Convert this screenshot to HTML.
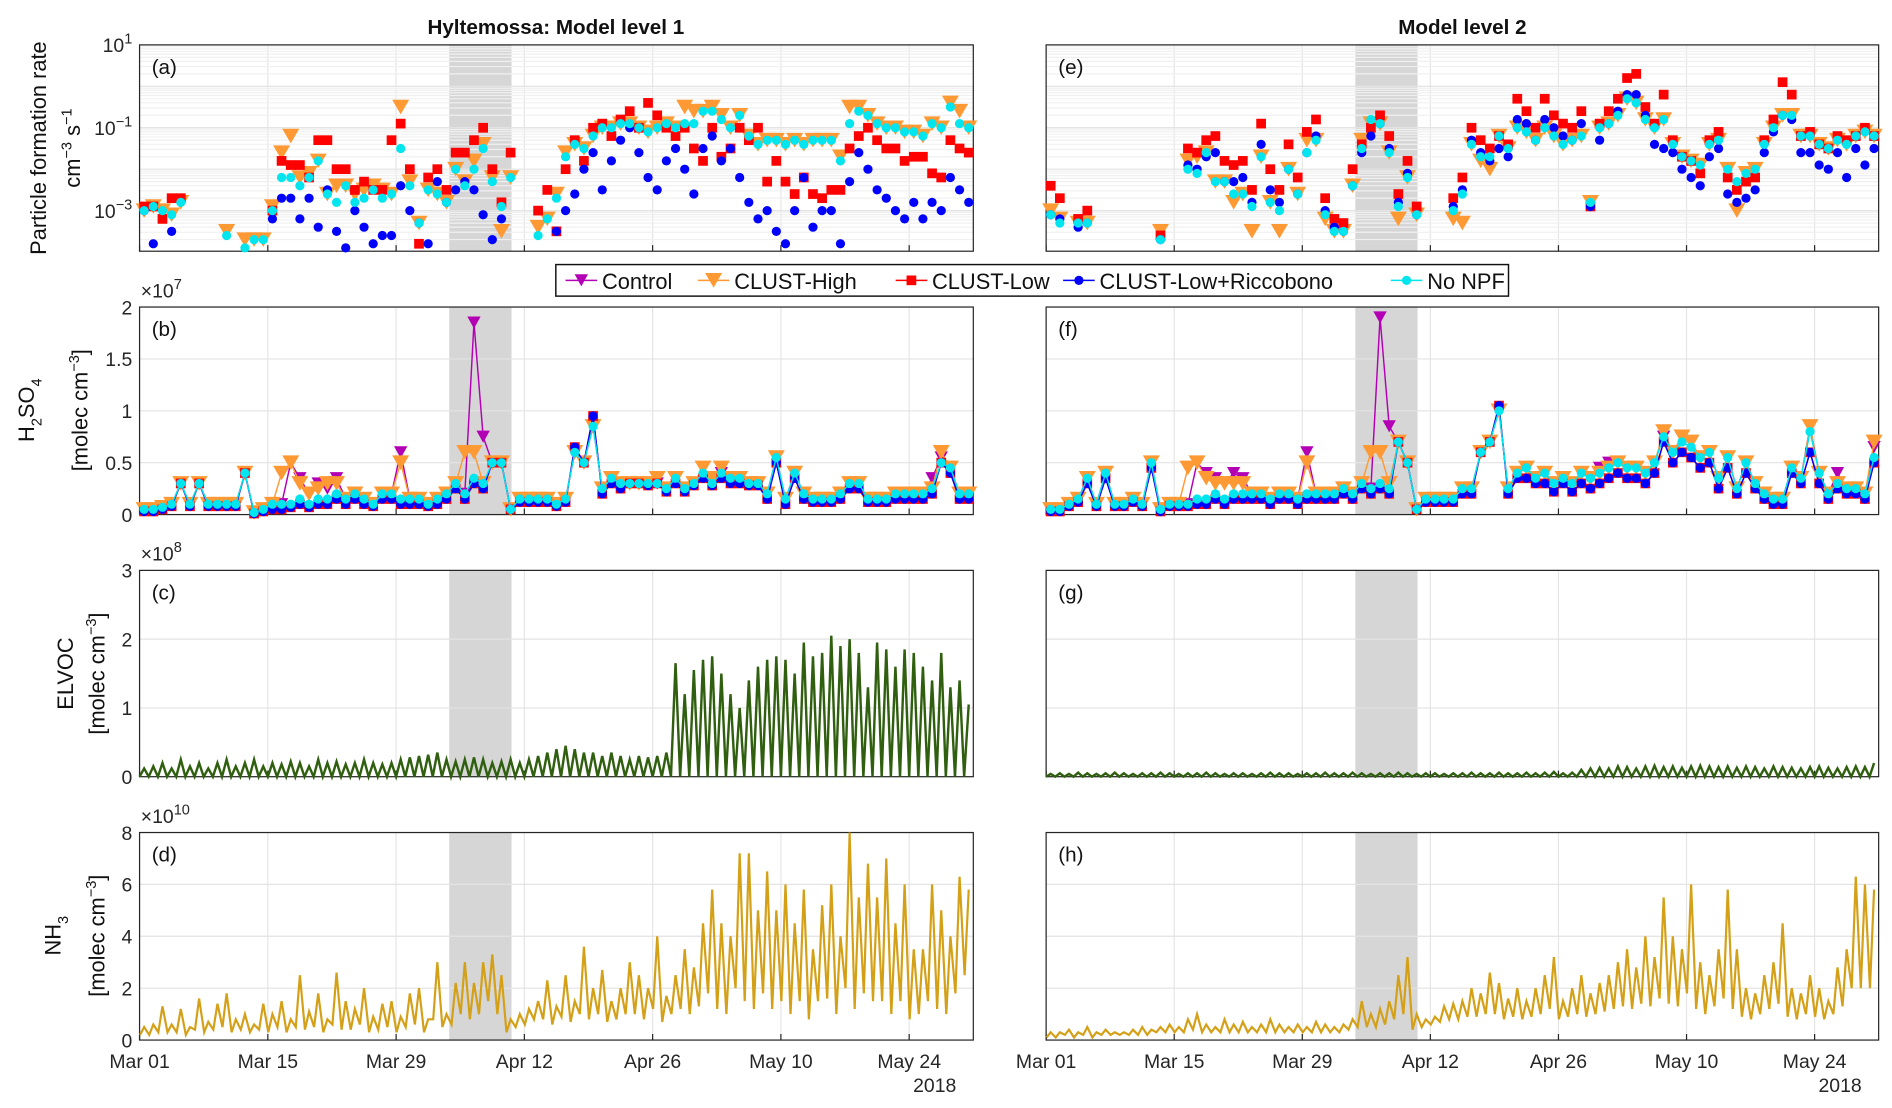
<!DOCTYPE html>
<html><head><meta charset="utf-8"><style>
body{margin:0;background:#fff;}
svg{display:block;font-family:"Liberation Sans",Arial,sans-serif;}
</style></head><body>
<svg id="fig" width="1892" height="1108" viewBox="0 0 1892 1108"></svg>
<script>
// ---------- DATA ----------
const xTickLabels=["Mar 01","Mar 15","Mar 29","Apr 12","Apr 26","May 10","May 24"];
const xTickDays=[0,14,28,42,56,70,84];
const seriesNames=["Control","CLUST-High","CLUST-Low","CLUST-Low+Riccobono","No NPF"];
// (a) log10 of J, model level 1
const jLowL=[-2.9,-2.9,-3.2,-2.7,-2.7,,,,,,,,,,-3.0,-1.8,-1.9,-1.9,-2.2,-1.3,-1.3,-2.0,-2.0,-2.5,-2.3,-2.5,-2.5,-1.3,-0.9,-2.0,-3.8,-2.2,-2.0,-2.5,-1.6,-1.6,-1.3,-1.0,-2.0,-2.8,-1.6,,,-3.0,-2.5,-3.5,-2.0,-1.3,-1.8,-1.0,-0.9,-1.2,-0.8,-0.6,-1.0,-0.4,-0.7,-1.0,-1.2,-1.0,-1.5,-1.8,-1.0,-1.7,-1.5,-1.0,-1.3,-1.0,-2.3,-1.8,-2.3,-2.6,-2.2,-2.6,-2.7,-2.5,-2.5,-1.5,-1.2,-1.0,-1.3,-1.5,-1.5,-1.8,-1.7,-1.7,-2.1,-2.2,-1.3,-1.5,-1.6,-1.7];
const jRiccL=[-3.0,-3.8,,-3.5,,,,,,,,,,,-3.2,-2.7,-2.7,-3.2,-2.7,-3.4,-2.5,-3.5,-3.9,-3.0,-3.4,-3.8,-3.6,-3.6,-2.4,-3.0,-3.3,-3.8,-2.3,-2.8,-2.5,-2.3,-2.5,-3.1,-3.7,-3.2,,,,,,-3.5,-3.0,-2.6,-2.0,-1.6,-2.5,-1.8,-1.3,-1.0,-1.6,-2.2,-2.5,-1.8,-1.5,-2.0,-2.6,-1.5,-1.2,-1.8,-1.5,-2.2,-2.8,-3.2,-3.0,-3.5,-3.8,-3.0,-2.2,-3.4,-3.0,-3.0,-3.8,-2.3,-1.6,-2.0,-2.5,-2.7,-3.0,-3.2,-2.8,-3.2,-2.8,-3.0,-2.2,-2.5,-2.8,-3.0];
const jNoL=[-3.0,-2.9,-3.0,-3.1,-2.8,,,,,-3.6,,-3.9,-3.7,-3.7,-3.0,-2.2,-2.2,-2.4,-2.2,-1.8,-2.6,-2.8,-2.4,-2.8,-2.7,-2.5,-2.7,-2.6,-1.5,-2.4,-3.3,-2.5,-2.6,-2.8,-2.0,-2.4,-2.0,-1.5,-2.3,-2.9,-2.2,,,-3.6,-3.2,-2.7,-1.7,-1.4,-1.5,-1.2,-1.0,-1.0,-0.9,-0.9,-1.0,-1.1,-1.0,-0.9,-1.0,-0.9,-0.9,-0.6,-0.6,-0.8,-1.0,-0.7,-1.2,-1.4,-1.3,-1.3,-1.4,-1.3,-1.4,-1.3,-1.3,-1.3,-1.8,-0.9,-0.6,-0.7,-0.9,-1.0,-1.0,-1.1,-1.1,-1.2,-0.9,-1.0,-0.5,-0.9,-1.0,-1.0];
const jHighL=[-3.0,-2.9,-3.0,-3.1,-2.8,,,,,-3.5,,-3.7,-3.7,-3.7,-2.9,-1.6,-1.2,-2.2,-2.1,-1.8,-2.6,-2.4,-2.4,-2.6,-2.5,-2.4,-2.5,-2.6,-0.5,-2.3,-3.3,-2.5,-2.6,-2.8,-2.0,-2.3,-1.8,-1.4,-2.2,-3.5,-2.2,,,-3.4,-3.2,-2.6,-1.6,-1.4,-1.5,-1.2,-1.0,-1.0,-0.9,-0.9,-1.0,-1.1,-1.0,-0.9,-1.0,-0.5,-0.6,-0.6,-0.5,-0.7,-1.0,-0.7,-1.2,-1.4,-1.3,-1.3,-1.4,-1.3,-1.4,-1.3,-1.3,-1.3,-1.7,-0.5,-0.5,-0.7,-0.9,-1.0,-1.0,-1.1,-1.1,-1.2,-0.9,-1.0,-0.4,-0.6,-1.0,-0.9];
// (e) log10 of J, model level 2
const jLowR=[-2.4,-2.7,,-3.2,-3.0,,,,,,,,-3.6,,,-1.5,-1.6,-1.3,-1.2,-1.8,-1.9,-1.8,-2.5,-0.9,-2.0,-2.5,-1.4,-2.2,-1.1,-0.8,-2.7,-3.2,-3.3,-2.0,-1.4,-1.0,-0.7,-1.2,-2.6,-1.8,-2.9,,,,-2.7,-2.2,-1.0,-1.3,-1.5,-1.2,-1.4,-0.3,-0.6,-1.0,-0.3,-0.7,-0.9,-1.0,-0.6,-2.9,-0.9,-0.6,-0.3,0.2,0.3,-0.5,-0.9,-0.2,-1.3,-1.7,-1.8,-2.1,-1.3,-1.1,-2.2,-2.5,-2.3,-2.2,-1.3,-0.8,0.1,-0.2,-1.2,-1.1,-1.4,-1.5,-1.2,-1.3,-1.2,-1.0,-1.2,-1.2];
const jRiccR=[-3.1,-3.2,,-3.4,-3.3,,,,,,,,-3.7,,,-1.9,-2.0,-1.7,-1.6,-2.3,-2.3,-2.2,-2.8,-1.4,-2.5,-2.8,-2.0,-2.6,-1.6,-1.2,-3.0,-3.4,-3.5,-2.4,-1.6,-1.2,-0.9,-1.5,-2.8,-2.1,-3.1,,,,-2.9,-2.5,-1.3,-1.6,-1.8,-1.5,-1.7,-0.8,-0.9,-1.3,-0.8,-1.0,-1.2,-1.3,-0.9,-2.9,-1.3,-0.9,-0.6,-0.2,-0.2,-0.7,-1.4,-1.5,-1.6,-2.0,-2.2,-2.4,-1.7,-1.5,-2.6,-2.8,-2.7,-2.5,-1.6,-1.1,-0.7,-0.8,-1.6,-1.6,-1.9,-2.0,-1.6,-2.2,-1.5,-1.9,-1.5,-2.3];
const jNoR=[-3.1,-3.3,,-3.3,-3.3,,,,,,,,-3.7,,,-2.0,-2.1,-1.6,-2.3,-2.3,-2.6,-2.6,-2.9,-1.7,-2.8,-3.0,-2.0,-2.6,-1.6,-1.3,-3.1,-3.5,-3.5,-2.4,-1.5,-0.8,-0.9,-1.6,-2.9,-2.2,-3.1,,,,-3.0,-2.6,-1.4,-1.7,-1.7,-1.2,-1.5,-1.0,-1.1,-1.3,-1.0,-1.2,-1.4,-1.3,-1.2,-2.8,-1.0,-0.9,-0.7,-0.3,-0.4,-0.8,-1.0,-0.8,-1.4,-1.7,-1.8,-1.9,-1.4,-1.3,-2.0,-2.3,-2.1,-2.0,-1.4,-1.0,-0.7,-0.7,-1.2,-1.2,-1.4,-1.5,-1.3,-1.4,-1.2,-1.1,-1.2,-1.2];
const jHighR=[-3.0,-3.2,,-3.3,-3.3,,,,,,,,-3.5,,,-1.8,-1.7,-1.6,-2.3,-2.3,-2.8,-2.6,-3.5,-1.7,-2.8,-3.5,-2.0,-2.6,-1.3,-1.3,-3.2,-3.5,-3.5,-2.4,-1.3,-0.9,-0.9,-1.6,-3.2,-2.2,-3.1,,,,-3.2,-3.3,-1.4,-1.8,-2.0,-1.2,-1.5,-1.0,-1.1,-1.3,-1.0,-1.2,-1.4,-1.3,-1.2,-2.8,-1.0,-0.9,-0.7,-0.3,-0.4,-0.8,-1.0,-0.8,-1.4,-1.7,-1.8,-1.9,-1.4,-1.3,-2.0,-3.0,-2.1,-2.0,-1.4,-1.0,-0.7,-0.7,-1.2,-1.2,-1.4,-1.5,-1.3,-1.4,-1.2,-1.1,-1.2,-1.2];
// (b) H2SO4 (x1e7), level 1
const hNoL=[0.05,0.05,0.07,0.1,0.3,0.1,0.3,0.1,0.1,0.1,0.1,0.4,0.02,0.05,0.1,0.1,0.1,0.15,0.1,0.15,0.15,0.2,0.15,0.2,0.15,0.1,0.2,0.2,0.15,0.15,0.15,0.1,0.15,0.2,0.3,0.2,0.35,0.3,0.5,0.5,0.05,0.15,0.15,0.15,0.15,0.1,0.15,0.6,0.5,0.85,0.25,0.35,0.3,0.3,0.3,0.3,0.3,0.25,0.35,0.25,0.3,0.4,0.3,0.4,0.35,0.35,0.3,0.3,0.2,0.55,0.15,0.4,0.2,0.15,0.15,0.15,0.2,0.3,0.3,0.15,0.15,0.15,0.2,0.2,0.2,0.2,0.25,0.5,0.45,0.2,0.2,0.25,0.2];
const hCtrlL=[0.05,0.05,0.07,0.1,0.3,0.1,0.3,0.1,0.1,0.1,0.1,0.4,0.02,0.05,0.1,0.1,0.5,0.35,0.2,0.3,0.25,0.35,0.15,0.2,0.15,0.1,0.2,0.2,0.6,0.15,0.15,0.1,0.15,0.2,0.3,0.2,1.85,0.75,0.5,0.5,0.05,0.15,0.15,0.15,0.15,0.1,0.15,0.6,0.5,0.85,0.25,0.35,0.3,0.3,0.3,0.3,0.3,0.25,0.35,0.25,0.3,0.45,0.3,0.4,0.35,0.35,0.3,0.3,0.2,0.55,0.15,0.4,0.2,0.15,0.15,0.15,0.2,0.3,0.3,0.15,0.15,0.15,0.2,0.2,0.2,0.2,0.35,0.55,0.45,0.2,0.2,0.25,0.2];
const hHighL=[0.05,0.05,0.07,0.1,0.3,0.1,0.3,0.1,0.1,0.1,0.1,0.4,0.02,0.05,0.1,0.4,0.5,0.3,0.2,0.25,0.3,0.3,0.15,0.2,0.15,0.1,0.2,0.2,0.5,0.15,0.15,0.1,0.15,0.2,0.3,0.6,0.6,0.3,0.5,0.5,0.05,0.15,0.15,0.15,0.15,0.1,0.15,0.6,0.5,0.85,0.25,0.35,0.3,0.3,0.3,0.3,0.35,0.25,0.35,0.25,0.3,0.45,0.35,0.45,0.35,0.35,0.3,0.3,0.2,0.55,0.15,0.4,0.2,0.15,0.15,0.15,0.2,0.3,0.3,0.15,0.15,0.15,0.2,0.2,0.2,0.2,0.25,0.6,0.45,0.2,0.2,0.25,0.2];
const hLowL=[0.03,0.03,0.05,0.08,0.3,0.08,0.3,0.08,0.08,0.08,0.08,0.4,0.01,0.03,0.05,0.05,0.07,0.1,0.07,0.1,0.1,0.15,0.1,0.15,0.1,0.08,0.15,0.15,0.1,0.1,0.1,0.08,0.1,0.15,0.25,0.15,0.3,0.25,0.5,0.5,0.05,0.12,0.12,0.12,0.12,0.08,0.12,0.65,0.5,0.95,0.2,0.3,0.25,0.3,0.3,0.28,0.3,0.22,0.3,0.22,0.28,0.35,0.28,0.35,0.3,0.3,0.28,0.28,0.15,0.5,0.1,0.35,0.15,0.12,0.12,0.12,0.15,0.25,0.25,0.12,0.12,0.12,0.15,0.15,0.15,0.15,0.2,0.5,0.4,0.15,0.15,0.2,0.15];
// (f) H2SO4 (x1e7), level 2
const hNoR=[0.05,0.05,0.1,0.15,0.35,0.1,0.4,0.1,0.1,0.15,0.1,0.5,0.05,0.1,0.1,0.1,0.15,0.15,0.2,0.15,0.2,0.2,0.2,0.2,0.15,0.2,0.2,0.15,0.2,0.2,0.2,0.2,0.25,0.2,0.3,0.25,0.3,0.25,0.7,0.5,0.05,0.15,0.15,0.15,0.15,0.25,0.25,0.6,0.7,1.0,0.25,0.4,0.45,0.35,0.4,0.3,0.35,0.3,0.4,0.35,0.4,0.45,0.5,0.45,0.45,0.4,0.5,0.75,0.6,0.7,0.65,0.55,0.6,0.35,0.55,0.25,0.5,0.3,0.2,0.15,0.15,0.45,0.35,0.8,0.4,0.2,0.3,0.25,0.25,0.2,0.55,0.5,0.2];
const hCtrlR=[0.05,0.05,0.1,0.15,0.35,0.1,0.4,0.1,0.1,0.15,0.1,0.5,0.05,0.1,0.1,0.1,0.5,0.4,0.35,0.3,0.4,0.35,0.2,0.2,0.15,0.2,0.2,0.15,0.6,0.2,0.2,0.2,0.25,0.2,0.3,0.25,1.9,0.85,0.7,0.5,0.05,0.15,0.15,0.15,0.15,0.25,0.25,0.6,0.7,1.0,0.25,0.4,0.45,0.35,0.4,0.3,0.35,0.3,0.4,0.35,0.45,0.5,0.5,0.45,0.45,0.4,0.5,0.75,0.6,0.75,0.7,0.55,0.6,0.35,0.55,0.25,0.5,0.3,0.2,0.15,0.15,0.45,0.35,0.85,0.4,0.2,0.4,0.25,0.25,0.2,0.65,0.5,0.2];
const hHighR=[0.05,0.05,0.1,0.15,0.35,0.1,0.4,0.1,0.1,0.15,0.1,0.5,0.05,0.1,0.1,0.45,0.5,0.35,0.3,0.3,0.3,0.3,0.2,0.2,0.15,0.2,0.2,0.15,0.5,0.2,0.2,0.2,0.25,0.2,0.3,0.6,0.6,0.3,0.7,0.5,0.05,0.15,0.15,0.15,0.15,0.25,0.25,0.6,0.7,1.0,0.25,0.4,0.45,0.35,0.4,0.3,0.35,0.3,0.4,0.35,0.4,0.45,0.5,0.45,0.45,0.4,0.5,0.8,0.6,0.75,0.7,0.55,0.6,0.35,0.55,0.25,0.5,0.3,0.2,0.15,0.15,0.45,0.35,0.85,0.4,0.2,0.3,0.25,0.25,0.2,0.7,0.5,0.2];
const hLowR=[0.03,0.03,0.08,0.12,0.3,0.08,0.35,0.08,0.08,0.12,0.08,0.45,0.03,0.08,0.08,0.08,0.1,0.1,0.15,0.1,0.15,0.15,0.15,0.15,0.1,0.15,0.15,0.1,0.15,0.15,0.15,0.15,0.2,0.15,0.25,0.2,0.25,0.2,0.7,0.5,0.05,0.12,0.12,0.12,0.12,0.2,0.2,0.6,0.7,1.05,0.2,0.35,0.35,0.3,0.3,0.22,0.3,0.22,0.3,0.25,0.3,0.35,0.4,0.35,0.35,0.3,0.4,0.7,0.5,0.6,0.55,0.45,0.5,0.25,0.45,0.2,0.4,0.25,0.15,0.1,0.1,0.4,0.3,0.6,0.3,0.15,0.25,0.2,0.2,0.15,0.5,0.45,0.15];
// (c)/(g) ELVOC daily peaks (x1e8)
const elvocL=[0.12,0.15,0.2,0.12,0.25,0.15,0.2,0.12,0.2,0.25,0.15,0.2,0.25,0.15,0.2,0.18,0.22,0.2,0.15,0.25,0.2,0.22,0.18,0.2,0.25,0.2,0.18,0.2,0.25,0.28,0.3,0.32,0.35,0.25,0.22,0.25,0.28,0.25,0.2,0.22,0.25,0.2,0.25,0.3,0.35,0.4,0.45,0.4,0.35,0.35,0.3,0.35,0.3,0.25,0.3,0.28,0.3,0.35,1.65,1.2,1.55,1.7,1.75,1.5,1.2,1.0,1.4,1.6,1.7,1.75,1.7,1.5,1.95,1.75,1.8,2.05,1.9,2.0,1.8,1.3,1.95,1.85,1.6,1.85,1.8,1.6,1.4,1.8,1.3,1.4,1.05];
const elvocR=[0.04,0.05,0.04,0.06,0.05,0.04,0.05,0.06,0.05,0.04,0.05,0.05,0.06,0.05,0.04,0.05,0.05,0.06,0.05,0.04,0.05,0.05,0.04,0.05,0.06,0.05,0.05,0.04,0.05,0.05,0.06,0.05,0.05,0.06,0.05,0.04,0.05,0.05,0.06,0.05,0.04,0.05,0.05,0.04,0.05,0.05,0.06,0.05,0.05,0.06,0.05,0.05,0.06,0.05,0.06,0.07,0.05,0.06,0.1,0.12,0.13,0.12,0.15,0.14,0.12,0.15,0.16,0.14,0.15,0.13,0.15,0.16,0.15,0.14,0.15,0.13,0.15,0.14,0.12,0.15,0.14,0.13,0.12,0.14,0.15,0.13,0.12,0.14,0.15,0.14,0.2];
// (d)/(h) NH3 daily max/min (x1e10)
const nh3MaxL=[0.5,0.6,1.3,0.6,1.2,0.5,1.6,0.7,1.4,1.8,0.8,1.0,0.6,1.4,1.0,1.5,0.8,2.5,1.1,1.8,0.8,2.6,1.5,1.2,2.0,0.9,1.4,1.5,0.9,1.8,2.0,0.8,3.0,1.0,2.2,3.0,2.2,3.0,3.3,2.5,0.8,1.0,1.2,1.5,2.3,1.3,2.5,1.5,3.6,2.0,2.7,1.5,2.0,3.0,2.5,2.0,4.0,1.7,2.5,3.5,2.8,4.5,5.8,4.5,4.0,7.2,7.2,5.0,6.5,5.0,6.0,4.5,5.8,3.5,5.2,6.0,4.0,8.0,5.5,6.8,5.5,7.0,4.5,6.0,3.5,3.5,6.0,5.0,4.0,6.3,5.8,5.5,2.0];
const nh3MinL=[0.2,0.2,0.3,0.3,0.3,0.2,0.4,0.3,0.4,0.5,0.3,0.4,0.3,0.4,0.3,0.5,0.3,0.5,0.4,0.5,0.3,0.6,0.4,0.4,0.6,0.3,0.4,0.5,0.3,0.5,0.6,0.3,0.8,0.5,0.6,1.0,0.8,1.0,1.5,1.0,0.3,0.5,0.6,0.8,0.8,0.6,0.9,0.7,1.0,0.8,1.0,0.7,0.8,1.0,1.0,0.8,1.2,0.7,1.0,1.2,1.0,1.3,1.8,1.2,1.0,2.0,1.5,1.2,1.8,1.2,1.5,1.0,1.5,0.8,1.5,1.6,1.0,2.0,1.2,1.8,1.5,1.5,1.0,1.5,0.8,1.0,1.5,1.2,1.0,1.8,2.5,2.5,1.3];
const nh3MaxR=[0.3,0.3,0.4,0.3,0.5,0.3,0.4,0.3,0.3,0.4,0.5,0.4,0.5,0.6,0.5,0.8,1.0,0.6,0.5,0.8,0.6,0.7,0.5,0.6,0.8,0.6,0.5,0.6,0.5,0.7,0.6,0.5,0.6,0.8,1.5,1.0,1.2,1.5,2.5,3.2,1.0,0.8,0.9,1.3,1.4,1.5,2.0,1.8,2.6,2.2,1.6,2.0,1.5,2.0,2.5,3.2,1.5,2.0,2.5,1.8,2.2,2.5,3.0,3.5,2.8,4.0,3.2,5.5,4.0,3.5,6.0,3.0,2.5,3.5,5.8,3.5,2.0,1.8,2.5,3.0,4.5,2.0,1.8,2.5,2.0,1.5,2.8,3.5,6.3,6.0,5.8,3.0,1.2];
const nh3MinR=[0.1,0.1,0.2,0.1,0.2,0.1,0.2,0.2,0.2,0.2,0.2,0.2,0.3,0.3,0.3,0.3,0.4,0.3,0.3,0.3,0.3,0.3,0.3,0.3,0.3,0.3,0.3,0.3,0.3,0.3,0.3,0.3,0.3,0.4,0.5,0.5,0.5,0.6,0.8,1.0,0.4,0.5,0.6,0.7,0.8,0.8,0.9,0.9,1.0,1.0,0.8,0.9,0.8,0.9,1.0,1.2,0.8,0.9,1.0,0.9,1.0,1.1,1.2,1.3,1.2,1.4,1.3,1.6,1.4,1.3,1.8,1.2,1.0,1.3,1.6,1.2,0.9,0.8,1.0,1.2,1.4,0.9,0.8,1.0,0.9,0.8,1.0,1.3,2.0,2.0,2.0,1.3,1.0];
const shadeDays=[33.8,40.6];

// ---------- DRAWING ----------
const NS="http://www.w3.org/2000/svg";
const svg=document.getElementById('fig');
const root=document.createElementNS(NS,'g');
root.setAttribute('transform','scale(1.2136)');


svg.appendChild(root);
function mk(tag,attrs,parent,text){const e=document.createElementNS(NS,tag);for(const k in attrs)e.setAttribute(k,attrs[k]);if(text!=null)e.textContent=text;(parent||root).appendChild(e);return e;}
const colL={x0:115,x1:802}, colR={x0:862,x1:1548};
const rows=[{y0:37,y1:207},{y0:253,y1:424},{y0:470,y1:640},{y0:686,y1:857}];
const DAYS=91;
function xs(col){return d=>col.x0+d*(col.x1-col.x0)/DAYS;}
function ysLin(row,max){return v=>row.y1-v/max*(row.y1-row.y0);}
function ysLog(row){return v=>row.y1-(v-(-3.98))/(1-(-3.98))*(row.y1-row.y0);}
const C={ctrl:"#b400b4",high:"#ff9933",low:"#ff0000",ricc:"#0000ff",no:"#00e5ee",elvoc:"#2f5f0f",nh3:"#d4a017"};

function axes(col,row,name,opts){
  const g=mk('g',{});
  const X=xs(col);
  mk('rect',{x:X(shadeDays[0]),y:row.y0,width:X(shadeDays[1])-X(shadeDays[0]),height:row.y1-row.y0,fill:'#d6d6d6'},g);
  xTickDays.forEach(d=>{mk('line',{x1:X(d),x2:X(d),y1:row.y0,y2:row.y1,stroke:'#e6e6e6'},g);});
  opts.grid.forEach(y=>mk('line',{x1:col.x0,x2:col.x1,y1:y.y,y2:y.y,stroke:y.minor?'#f0f0f0':'#e3e3e3'},g));
  mk('rect',{x:col.x0,y:row.y0,width:col.x1-col.x0,height:row.y1-row.y0,fill:'none',stroke:'#262626','stroke-width':1},g);
  xTickDays.forEach(d=>{mk('line',{x1:X(d),x2:X(d),y1:row.y1,y2:row.y1-5,stroke:'#262626'},g);});
  if(opts.labels){opts.grid.filter(t=>t.label!=null).forEach(t=>{
    const tx=mk('text',{x:col.x0-6,y:t.y+6,'text-anchor':'end','font-size':16,fill:'#262626'},g,t.label);
    if(t.sup){mk('tspan',{dy:-7,'font-size':12},tx,t.sup);}
  });}
  return g;
}
function panelLetter(col,row,l){const t=mk('text',{x:col.x0+10,y:row.y0+24,'font-size':17,fill:'#111'},null,l);}

function marker(g,type,x,y,color){
  if(type==='tri'){mk('path',{d:`M${x-5.5},${y-5} L${x+5.5},${y-5} L${x},${y+5} Z`,fill:color},g);}
  else if(type==='trib'){mk('path',{d:`M${x-7},${y-6} L${x+7},${y-6} L${x},${y+6} Z`,fill:color},g);}
  else if(type==='sq'){mk('rect',{x:x-4,y:y-4,width:8,height:8,fill:color},g);}
  else {mk('circle',{cx:x,cy:y,r:3.8,fill:color},g);}
}
function scatter(col,yfn,arr,type,color,line,name){
  const g=mk('g',{});
  const X=xs(col);let pts=[];
  for(let i=0;i<arr.length;i++){if(arr[i]==null||i+0.5>DAYS)continue;pts.push([X(i+0.5),yfn(arr[i])]);}
  if(line)mk('polyline',{points:pts.map(p=>p.join(',')).join(' '),fill:'none',stroke:color,'stroke-width':1.2},g);
  pts.forEach(p=>marker(g,type,p[0],p[1],color));
}
function zig(col,yfn,mx,mn,color,name){
  const X=xs(col);let pts=[];
  for(let i=0;i<mx.length;i++){if(i+0.5>DAYS)break;pts.push([X(i+0.05),yfn(mn[i])]);pts.push([X(i+0.5),yfn(mx[i])]);}
  const p=mk('polyline',{points:pts.map(p=>p.join(',')).join(' '),fill:'none',stroke:color,'stroke-width':1.8});
  
}
function zigE(col,yfn,mx,color,name){
  const X=xs(col);let pts=[];
  for(let i=0;i<mx.length;i++){if(i+0.5>DAYS)break;pts.push([X(i),yfn(0)]);pts.push([X(i+0.5),yfn(mx[i])]);}
  const p=mk('polyline',{points:pts.map(p=>p.join(',')).join(' '),fill:'none',stroke:color,'stroke-width':2});
  
}

[["L",colL],["R",colR]].forEach(([s,col])=>{
  const lab=s==='L';
  const ya=ysLog(rows[0]);let ga=[];
  for(let e=-4;e<=0;e++){for(let m=1;m<10;m++){const v=e+Math.log10(m);if(v>-3.98)ga.push({y:ya(v),minor:m!==1});}}
  ga.push({y:ya(1)});
  [-3,-1,1].forEach(e=>ga.push({y:ya(e),label:'10',sup:String(e).replace('-','−')}));
  axes(col,rows[0],'panel-j-'+s,{grid:ga,labels:lab});
  const jd=lab?[jHighL,jLowL,jRiccL,jNoL]:[jHighR,jLowR,jRiccR,jNoR];
  scatter(col,ya,jd[0],'trib',C.high,false,'j-clust-high-'+s);
  scatter(col,ya,jd[1],'sq',C.low,false,'j-clust-low-'+s);
  scatter(col,ya,jd[2],'c',C.ricc,false,'j-riccobono-'+s);
  scatter(col,ya,jd[3],'c',C.no,false,'j-no-npf-'+s);
  const yb=ysLin(rows[1],2);
  axes(col,rows[1],'panel-h2so4-'+s,{grid:[0,0.5,1,1.5,2].map(v=>({y:yb(v),label:v})),labels:lab});
  const hd=lab?[hCtrlL,hHighL,hLowL,hNoL]:[hCtrlR,hHighR,hLowR,hNoR];
  scatter(col,yb,hd[0],'tri',C.ctrl,true,'h2so4-control-'+s);
  scatter(col,yb,hd[1],'trib',C.high,true,'h2so4-clust-high-'+s);
  scatter(col,yb,hd[2],'sq',C.low,true,'h2so4-clust-low-'+s);
  scatter(col,yb,hd[2],'c',C.ricc,true,'h2so4-riccobono-'+s);
  scatter(col,yb,hd[3],'c',C.no,true,'h2so4-no-npf-'+s);
  const yc=ysLin(rows[2],3);
  axes(col,rows[2],'panel-elvoc-'+s,{grid:[0,1,2,3].map(v=>({y:yc(v),label:v})),labels:lab});
  zigE(col,yc,lab?elvocL:elvocR,C.elvoc,'elvoc-line-'+s);
  const yd=ysLin(rows[3],8);
  axes(col,rows[3],'panel-nh3-'+s,{grid:[0,2,4,6,8].map(v=>({y:yd(v),label:v})),labels:lab});
  zig(col,yd,lab?nh3MaxL:nh3MaxR,lab?nh3MinL:nh3MinR,C.nh3,'nh3-line-'+s);
  const X=xs(col);
  xTickDays.forEach((d,i)=>{const t=mk('text',{x:X(d),y:880,'text-anchor':'middle','font-size':16,fill:'#262626'},null,xTickLabels[i]);});
  mk('text',{x:col.x1-14,y:900,'text-anchor':'end','font-size':16,fill:'#262626'},null,'2018');
  const L=lab?['(a)','(b)','(c)','(d)']:['(e)','(f)','(g)','(h)'];
  rows.forEach((r,i)=>panelLetter(col,r,L[i]));
});

function T(x,y,txt,attrs,name){const t=mk('text',Object.assign({x:x,y:y,'font-size':17,fill:'#111','text-anchor':'middle'},attrs||{}),null,txt);return t;}
T(458,28,'Hyltemossa: Model level 1',{'font-weight':'bold'},'title-left');
T(1205,28,'Model level 2',{'font-weight':'bold'},'title-right');
[[245,'7'],[462,'8'],[678,'10']].forEach(([y,e])=>{const t=mk('text',{x:116,y:y,'font-size':16,fill:'#262626'},null,'×10');mk('tspan',{dy:-7,'font-size':12},t,e);});
function yt(cx,cy,parts,name){const t=mk('text',{transform:`translate(${cx},${cy}) rotate(-90)`,'text-anchor':'middle','font-size':18,fill:'#111'});parts.forEach(p=>{mk('tspan',p.a||{},t,p.t);});}
yt(38,122,[{t:'Particle formation rate'}],'y-title-j');
yt(66,122,[{t:'cm'},{t:'−3',a:{dy:-7,'font-size':12}},{t:' s',a:{dy:7}},{t:'−1',a:{dy:-7,'font-size':12}}],'y-title-j-units');
yt(28,338,[{t:'H'},{t:'2',a:{dy:6,'font-size':12}},{t:'SO',a:{dy:-6}},{t:'4',a:{dy:6,'font-size':12}}],'y-title-h2so4');
yt(72,338,[{t:'[molec cm'},{t:'−3',a:{dy:-7,'font-size':12}},{t:']',a:{dy:7}}],'y-title-h2so4-units');
yt(60,555,[{t:'ELVOC'}],'y-title-elvoc');
yt(86,555,[{t:'[molec cm'},{t:'−3',a:{dy:-7,'font-size':12}},{t:']',a:{dy:7}}],'y-title-elvoc-units');
yt(50,771,[{t:'NH'},{t:'3',a:{dy:6,'font-size':12}}],'y-title-nh3');
yt(86,771,[{t:'[molec cm'},{t:'−3',a:{dy:-7,'font-size':12}},{t:']',a:{dy:7}}],'y-title-nh3-units');

const lg=mk('g',{});
mk('rect',{x:458,y:218,width:785,height:26,fill:'#fff',stroke:'#111','stroke-width':1.2},lg);
const legX=[466,575,738,876,1146], legT=['tri','trib','sq','c','c'], legC=[C.ctrl,C.high,C.low,C.ricc,C.no];
seriesNames.forEach((n,i)=>{
  const e=mk('g',{},lg);
  
  
  mk('line',{x1:legX[i],x2:legX[i]+26,y1:231,y2:231,stroke:legC[i],'stroke-width':1.2},e);
  marker(e,legT[i],legX[i]+13,231,legC[i]);
  mk('text',{x:legX[i]+30,y:238,'font-size':18,fill:'#111'},e,n);
});
</script>
</body></html>
